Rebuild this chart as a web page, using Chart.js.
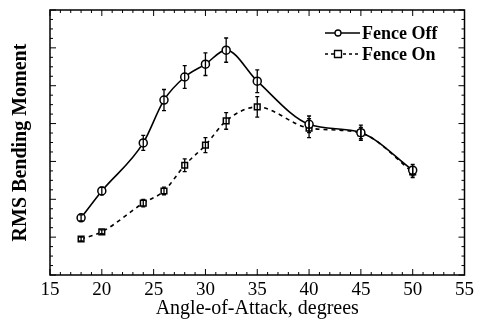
<!DOCTYPE html>
<html>
<head>
<style>
    body { margin: 0; background: #fff; }
    #wrap { width: 478px; height: 324px; }
</style>
</head>
<body>
<div id="wrap"><canvas id="myChart"></canvas></div>
<script src="https://cdn.jsdelivr.net/npm/chart.js@4.4.0/dist/chart.umd.min.js"></script>
<script>
    // angle of attack (deg)
    const angles = [18, 20, 24, 26, 28, 30, 32, 35, 40, 45, 50]
    // RMS bending moment, arbitrary units
    const fenceOff = [1.51, 2.22, 3.49, 4.62, 5.23, 5.57, 5.94, 5.12, 3.98, 3.76, 2.77]
    const fenceOffErr = [0.08, 0.1, 0.2, 0.28, 0.3, 0.3, 0.32, 0.3, 0.22, 0.2, 0.15]
    const fenceOn = [0.95, 1.14, 1.9, 2.22, 2.9, 3.43, 4.07, 4.44, 3.88, 3.75, 2.72]
    const fenceOnErr = [0.05, 0.05, 0.1, 0.1, 0.17, 0.2, 0.22, 0.27, 0.25, 0.15, 0.15]
    const xTicks = [15, 20, 25, 30, 35, 40, 45, 50, 55]

    const FONT = "'Liberation Serif', 'Times New Roman', serif"

    function pts(ys){
        return angles.map((a, i) => ({x: a, y: ys[i]}))
    }

    // error bars + inward ticks + frame + legend
    const decor = {
        id: 'decor',
        afterDatasetsDraw(chart){
            const ctx = chart.ctx
            const xs = chart.scales.x, ys = chart.scales.y
            const a = chart.chartArea
            ctx.save()
            ctx.strokeStyle = '#000'
            ctx.lineWidth = 1.3
            const errs = [fenceOffErr, fenceOnErr]
            const vals = [fenceOff, fenceOn]
            for(let d = 0; d < 2; d++){
                for(let i = 0; i < angles.length; i++){
                    const px = xs.getPixelForValue(angles[i])
                    const top = ys.getPixelForValue(vals[d][i] + errs[d][i])
                    const bot = ys.getPixelForValue(vals[d][i] - errs[d][i])
                    ctx.beginPath()
                    ctx.moveTo(px, top); ctx.lineTo(px, bot)
                    ctx.moveTo(px - 2, top); ctx.lineTo(px + 2, top)
                    ctx.moveTo(px - 2, bot); ctx.lineTo(px + 2, bot)
                    ctx.stroke()
                }
            }
            // frame
            ctx.lineWidth = 1.5
            ctx.strokeRect(a.left, a.top, a.right - a.left, a.bottom - a.top)
            // inward ticks
            ctx.lineWidth = 1
            ctx.beginPath()
            for(let v = 15; v <= 55; v++){
                const px = xs.getPixelForValue(v)
                const len = v % 5 == 0 ? 6 : 3
                ctx.moveTo(px, a.bottom); ctx.lineTo(px, a.bottom - len)
                ctx.moveTo(px, a.top); ctx.lineTo(px, a.top + len)
            }
            for(let k = 0; k <= 28; k++){
                const v = k / 4
                const py = ys.getPixelForValue(v)
                const len = k % 4 == 0 ? 6 : 3
                ctx.moveTo(a.left, py); ctx.lineTo(a.left + len, py)
                ctx.moveTo(a.right, py); ctx.lineTo(a.right - len, py)
            }
            ctx.stroke()
            // legend
            ctx.font = 'bold 18px ' + FONT
            ctx.fillStyle = '#000'
            ctx.textBaseline = 'middle'
            const lx = 325
            const rows = [['Fence Off', [], 'circle', 33], ['Fence On', [3, 3], 'rect', 54]]
            rows.forEach(r => {
                ctx.lineWidth = 1.3
                ctx.setLineDash(r[1])
                ctx.beginPath(); ctx.moveTo(lx, r[3]); ctx.lineTo(lx + 35, r[3]); ctx.stroke()
                ctx.setLineDash([])
                ctx.fillStyle = '#fff'
                ctx.beginPath()
                if(r[2] == 'circle') ctx.arc(lx + 13, r[3], 3, 0, Math.PI * 2)
                else ctx.rect(lx + 9.5, r[3] - 3.5, 7, 7)
                ctx.fill(); ctx.stroke()
                ctx.fillStyle = '#000'
                ctx.fillText(r[0], lx + 37, r[3] + 1)
            })
            ctx.restore()
        }
    }

    const ctx1 = document.getElementById('myChart').getContext('2d')
    const mychart = new Chart(ctx1, {
        type: 'line',
        data: {
            datasets: [
                {
                    label: 'Fence Off',
                    data: pts(fenceOff),
                    borderColor: '#000',
                    borderWidth: 1.6,
                    backgroundColor: '#fff',
                    pointStyle: 'circle',
                    pointRadius: 4,
                    pointBorderWidth: 1.5,
                    cubicInterpolationMode: 'monotone'
                },
                {
                    label: 'Fence On',
                    data: pts(fenceOn),
                    borderColor: '#000',
                    borderWidth: 1.6,
                    borderDash: [4, 4],
                    backgroundColor: '#fff',
                    pointStyle: 'rect',
                    pointRadius: 4,
                    pointBorderWidth: 1.5,
                    cubicInterpolationMode: 'monotone'
                }
            ]
        },
        options: {
            responsive: true,
            maintainAspectRatio: false,
            animation: false,
            layout: { padding: { top: 10, right: 8, left: 0, bottom: 0 } },
            plugins: { legend: { display: false }, tooltip: { enabled: false } },
            scales: {
                x: {
                    type: 'linear',
                    min: 15, max: 55,
                    afterBuildTicks: s => { s.ticks = xTicks.map(v => ({value: v})) },
                    afterFit: s => { s.height = 49 },
                    grid: { display: false, drawTicks: false },
                    border: { display: false },
                    ticks: { color: '#000', padding: 4, font: { family: FONT, size: 19 } },
                    title: { display: true, text: 'Angle-of-Attack, degrees', color: '#000', padding: { top: 0, bottom: 3 },
                             font: { family: FONT, size: 20 } }
                },
                y: {
                    min: 0, max: 7,
                    afterFit: s => { s.width = 50 },
                    grid: { display: false, drawTicks: false },
                    border: { display: false },
                    ticks: { display: false },
                    title: { display: true, text: 'RMS Bending Moment', color: '#000', padding: { top: 9, bottom: 0 },
                             font: { family: FONT, size: 20, weight: 'bold' } }
                }
            }
        },
        plugins: [decor]
    })
</script>
</body>
</html>
